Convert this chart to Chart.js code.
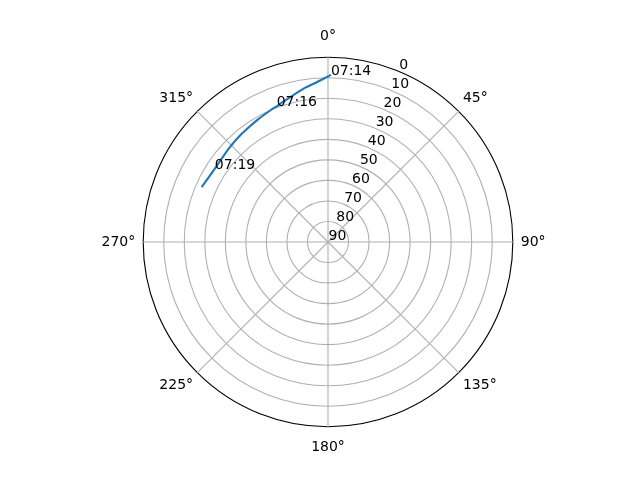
<!DOCTYPE html>
<html>
<head>
<meta charset="utf-8">
<title>Sky plot</title>
<script src="https://cdn.jsdelivr.net/npm/chart.js@4.4.1/dist/chart.umd.min.js"></script>
<style>
  html, body { margin: 0; padding: 0; background: #fff; }
  canvas { display: block; }
</style>
</head>
<body>
<canvas id="sky" width="640" height="480"></canvas>
<script>
// pass track: azimuth (deg, clockwise from N) and elevation (deg)
const trackAzimuth   = [1.1, 355.8, 350.6, 342.1, 339.3, 336.8, 330.1, 323.9, 320.0, 313.7, 303.0, 293.5];
const trackElevation = [8.6, 12.1, 14.6, 18.4, 19.4, 19.9, 21.3, 22.3, 22.8, 23.6, 24.3, 22.9];
const trackTimes     = ['07:14', '', '', '', '07:16', '', '', '', '', '', '07:19', ''];

const azimuthTicks   = [0, 45, 90, 135, 180, 225, 270, 315];
const elevationTicks = [0, 10, 20, 30, 40, 50, 60, 70, 80, 90];

const FONT = 'DejaVu Sans';
const STEP = 0.25;     // degrees per radar slot
const START = 90;      // slot 0 sits at east so the pass never wraps
const SLOTS = 360 / STEP;

const slotAz = Array.from({length: SLOTS}, (_, i) => (START + i * STEP) % 360);
const slotLabels = slotAz.map(a => azimuthTicks.includes(a) ? a + '°' : '');
const slotOf = az => Math.round(((az - START + 360) % 360) / STEP) % SLOTS;

const values = slotAz.map(() => null);
const trackSlot = trackAzimuth.map((az, k) => {
  const i = slotOf(az);
  values[i] = trackElevation[k];
  return i;
});

// radar lines are always closed loops, open this one up
const openTrack = {
  id: 'openTrack',
  afterDatasetsUpdate(chart) {
    const line = chart.getDatasetMeta(0).dataset;
    line._loop = false;
    line._fullLoop = false;
    delete line._segments;
    delete line._path;
  }
};

// horizontal elevation labels along the 22.5 deg spoke + time stamps
const labels = {
  id: 'labels',
  afterDatasetsDraw(chart) {
    const ctx = chart.ctx;
    const r = chart.scales.r;
    const spoke = slotOf(22.5);
    ctx.save();
    ctx.fillStyle = '#000';
    ctx.font = '14px "' + FONT + '"';
    ctx.textAlign = 'left';
    ctx.textBaseline = 'alphabetic';
    r.ticks.forEach(t => {
      const p = r.getPointPosition(spoke, r.getDistanceFromCenterForValue(t.value));
      ctx.fillText(t.label, p.x + 0.5, p.y - 2.5);
    });
    const meta = chart.getDatasetMeta(0);
    trackTimes.forEach((t, k) => {
      if (!t) return;
      const pt = meta.data[trackSlot[k]];
      ctx.fillText(t, pt.x, pt.y);
    });
    ctx.restore();
  }
};

new Chart(document.getElementById('sky'), {
  type: 'radar',
  data: {
    labels: slotLabels,
    datasets: [{
      data: values,
      borderColor: '#1f77b4',
      borderWidth: 2.1,
      pointRadius: 0,
      pointHoverRadius: 0,
      fill: false,
      spanGaps: true,
      tension: 0.3
    }]
  },
  options: {
    responsive: false,
    animation: false,
    devicePixelRatio: 1,
    layout: { padding: { left: 16, right: 0, top: 28, bottom: 24 } },
    plugins: { legend: { display: false }, tooltip: { enabled: false } },
    scales: {
      r: {
        min: elevationTicks[0],
        max: elevationTicks[elevationTicks.length - 1],
        reverse: true,
        startAngle: START,
        afterBuildTicks: s => { s.ticks = elevationTicks.slice().reverse().map(v => ({value: v})); },
        ticks: { display: false, reverse: true },
        grid: {
          circular: true,
          color: c => (c.tick && c.tick.value === 0) ? '#000' : '#b0b0b0',
          lineWidth: 1.1
        },
        angleLines: {
          color: '#b0b0b0',
          lineWidth: c => c.label ? 1.1 : 0
        },
        pointLabels: {
          color: '#000',
          font: { family: FONT, size: 14 },
          padding: c => {
            if (!c.label) return 0;
            if (c.label === '0°' || c.label === '180°') return 12.4;
            if (c.label === '90°' || c.label === '270°') return 8;
            return 6;
          }
        }
      }
    }
  },
  plugins: [openTrack, labels]
});
</script>
</body>
</html>
